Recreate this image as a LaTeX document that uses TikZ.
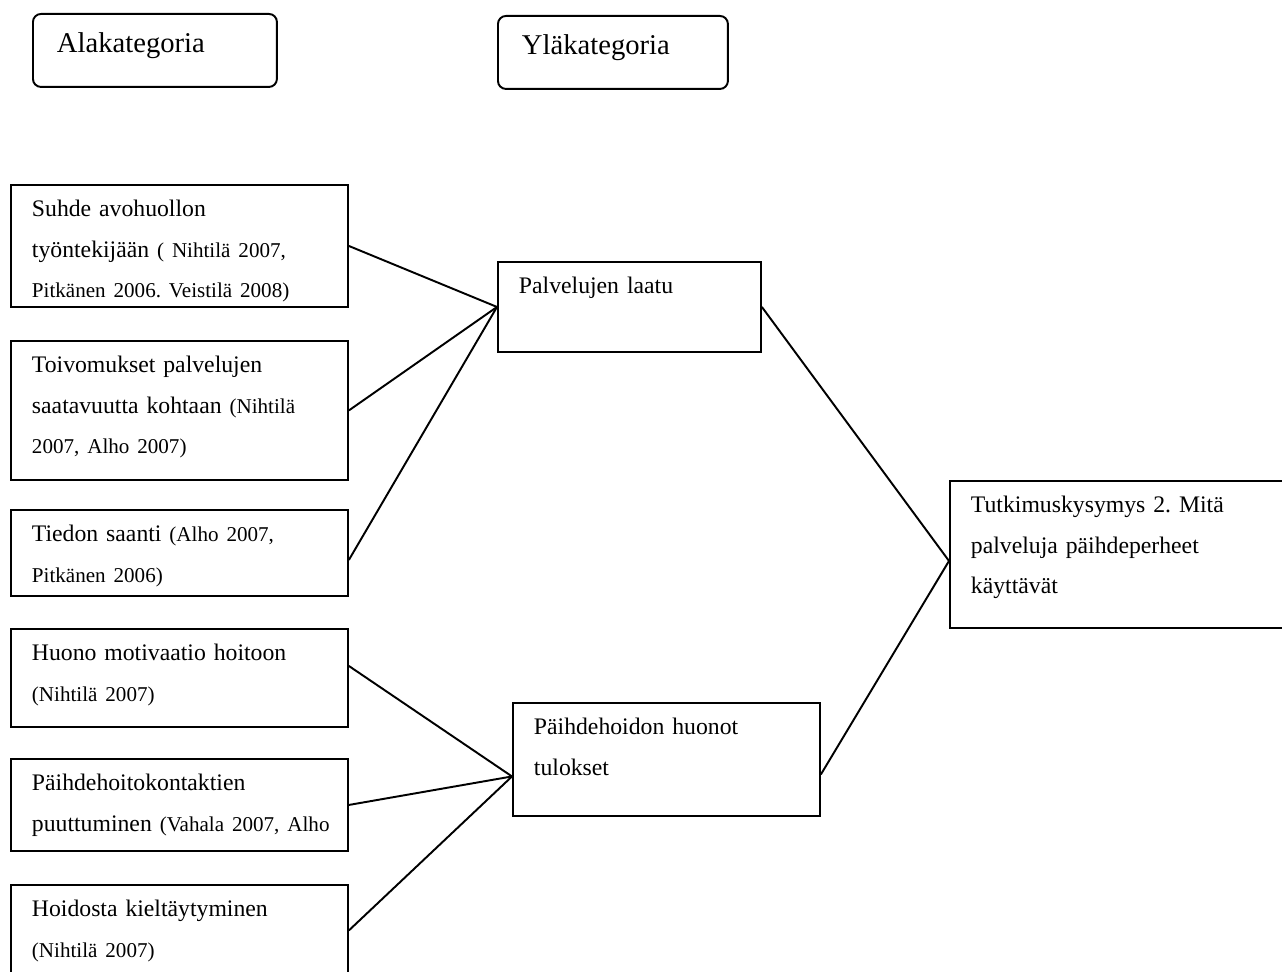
\documentclass[tikz,border=0pt]{standalone}
\usepackage{fontspec}
\setmainfont{Liberation Serif}
\newcommand{\lahde}[1]{{\fontsize{12}{23}\selectfont #1}}
\tikzset{
  kat/.style={draw, line width=1.1pt, anchor=north west, align=left,
    inner xsep=0.42cm, inner ysep=0pt, text height=0.64cm,
    font=\fontsize{13.5}{23}\selectfont\frenchspacing},
  otsikko/.style={kat, rounded corners=0.16cm, inner xsep=0.48cm,
    text height=0.78cm, text depth=0.68cm, font=\fontsize{16.3}{20}\selectfont},
  yhteys/.style={line width=1.1pt}
}

\begin{document}
\begin{tikzpicture}[x=0.02cm, y=-0.02cm]
  \useasboundingbox (0,0) rectangle (1282,972);
  % otsikot
  \node[otsikko, text width=3.92cm] (ala) at (32,13) {Alakategoria};
  \node[otsikko, text width=3.64cm] (yla) at (497,15) {Yläkategoria};
  % alakategoriat
  \node[kat, text width=5.9cm, text depth=1.8cm] (suhde) at (10,184)
    {Suhde avohuollon\\ työntekijään \lahde{( Nihtilä 2007,}\\ \lahde{Pitkänen 2006. Veistilä 2008)}};
  \node[kat, text width=5.9cm, text depth=2.14cm] (toive) at (10,340)
    {Toivomukset palvelujen\\ saatavuutta kohtaan \lahde{(Nihtilä}\\ \lahde{2007, Alho 2007)}};
  \node[kat, text width=5.9cm, text depth=1.08cm] (tieto) at (10,509)
    {Tiedon saanti \lahde{(Alho 2007,}\\ \lahde{Pitkänen 2006)}};
  \node[kat, text width=5.9cm, text depth=1.32cm] (motiv) at (10,628)
    {Huono motivaatio hoitoon\\ \lahde{(Nihtilä 2007)}};
  \node[kat, text width=5.9cm, text depth=1.2cm] (kontakti) at (10,758)
    {Päihdehoitokontaktien\\ \mbox{puuttuminen \lahde{(Vahala 2007, Alho}}};
  \node[kat, text width=5.9cm, text depth=1.18cm] (kieltay) at (10,884)
    {Hoidosta kieltäytyminen\\ \lahde{(Nihtilä 2007)}};
  % yläkategoriat
  \node[kat, text width=4.42cm, text depth=1.16cm] (laatu) at (497,261)
    {Palvelujen laatu};
  \node[kat, text width=5.3cm, text depth=1.62cm] (tulos) at (512,702)
    {Päihdehoidon huonot\\ tulokset};
  % tutkimuskysymys
  \node[kat, text width=6.08cm, text depth=2.3cm] (kysymys) at (949,480)
    {Tutkimuskysymys 2. Mitä\\ palveluja päihdeperheet\\ käyttävät};

  \draw[yhteys] (suhde.east) -- (laatu.west);
  \draw[yhteys] (toive.east) -- (laatu.west);
  \draw[yhteys] ([yshift=-0.14cm]tieto.east) -- (laatu.west);
  \draw[yhteys] ([yshift=0.24cm]motiv.east) -- ([yshift=-0.34cm]tulos.west);
  \draw[yhteys] (kontakti.east) -- ([yshift=-0.34cm]tulos.west);
  \draw[yhteys] (kieltay.east) -- ([yshift=-0.34cm]tulos.west);
  \draw[yhteys] (laatu.east) -- ([yshift=-0.13cm]kysymys.west);
  \draw[yhteys] ([yshift=-0.3cm]tulos.east) -- ([yshift=-0.13cm]kysymys.west);
\end{tikzpicture}
\end{document}
